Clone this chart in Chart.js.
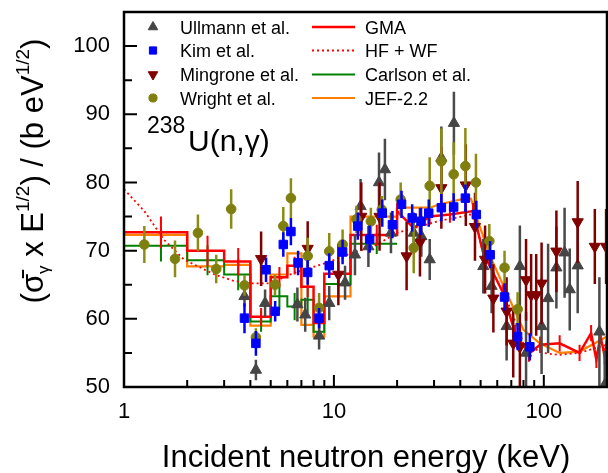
<!DOCTYPE html>
<html>
<head>
<meta charset="utf-8">
<script src="https://cdn.jsdelivr.net/npm/chart.js@4.4.1/dist/chart.umd.min.js"></script>
<style>
  html, body { margin: 0; padding: 0; background: #fff; overflow: hidden; }
  canvas { display: block; }
</style>
</head>
<body>
<canvas id="grafico" width="608" height="473"></canvas>
<script>
// axis ticks
const xTickLabels = [1, 10, 100];
const xMinorTicks = [2, 3, 4, 5, 6, 7, 8, 9, 20, 30, 40, 50, 60, 70, 80, 90];
const yTickLabels = [50, 60, 70, 80, 90, 100];
const yMinorTicks = [55, 65, 75, 85, 95];

// stepped evaluations below 20 keV (bin edges in keV)
const binEdges = [1, 2, 3, 4, 5, 6, 7, 8, 9, 12, 20];
const gmaStep = [72.7, 70.0, 68.4, 60.3, 66.1, 67.8, 64.7, 59.4, 66.6, 72.3];
const gmaStepErr = [2.3, 2.2, 2.0, 1.3, 1.5, 1.3, 1.5, 1.5, 1.8, 1.5];
const carlsonStep = [70.7, 68.6, 66.5, 59.6, 63.3, 61.8, 62.8, 58.1, 65.1, 71.0];
const carlsonErr = [2.3, 2.2, 2.3, 1.5, 2.0, 2.0, 2.0, 1.5, 2.0, 1.5];
const jefStep = [72.3, 67.7, 67.9, 59.0, 66.5, 69.6, 59.1, 57.4, 63.3, 75.0];

// continuous curves
const gmaE = [20, 24, 28.6, 35.7, 46, 51.4, 64, 73, 85, 96, 119, 148, 168, 178, 186, 195, 200];
const gmaV = [75.8, 73.3, 75.0, 75.3, 75.8, 69.7, 63.8, 57.9, 54.9, 56.2, 56.4, 55.0, 57.9, 54.0, 57.5, 54.5, 57.0];
const jefE = [20, 28.6, 32, 42.7, 45, 47.7, 55.5, 66.5, 80, 95.7, 119, 148, 200];
const jefV = [76.3, 76.3, 76.8, 77.7, 77.6, 75.0, 69.2, 63.8, 58.4, 56.4, 55.0, 55.2, 57.4];
const hfE = [1, 1.25, 1.55, 1.93, 2.7, 3.3, 4, 5, 6.4, 9.2, 12.3, 15.4, 20, 24, 32, 38, 44.5, 47, 51, 56, 68.6, 80, 99, 118, 148, 185, 200];
const hfV = [79.0, 75.8, 71.6, 68.7, 66.5, 65.6, 65.2, 65.2, 66.7, 68.2, 69.7, 70.6, 72.6, 73.3, 74.4, 74.8, 75.3, 74.5, 70.0, 67.5, 61.8, 56.4, 55.0, 54.7, 55.0, 55.9, 56.2];

// measurements
const ullE = [3.75, 4.25, 4.7, 6.7, 7.3, 8.5, 9.5, 11.3, 12.6, 13.4, 14.6, 16.4, 17.5, 18.7, 24, 26.1, 28.6, 32.5, 37.3, 51.5, 56.4, 66.5, 76.9, 82.3, 97.6, 104.8, 114.8, 125.6, 132.9, 145, 184, 195];
const ullV = [63.3, 52.5, 62.3, 62.1, 60.6, 57.5, 62.3, 65.3, 69.4, 76.5, 70.6, 80.0, 81.9, 72.6, 72.6, 72.1, 68.7, 83.6, 88.7, 67.7, 64.8, 58.9, 67.7, 55.0, 58.9, 63.0, 67.5, 69.7, 64.3, 67.8, 58.1, 50.3];
const ullErr = [1.5, 1.5, 2, 2.5, 2.5, 2, 2.5, 2.5, 3, 4, 3, 4.4, 4.5, 3, 3, 3, 3, 4.6, 4.6, 4, 4, 5, 6, 6, 7, 8, 6, 6.6, 6, 7, 8, 5];

const kimE = [3.75, 4.25, 4.75, 5.25, 5.74, 6.24, 6.75, 7.5, 8.5, 9.5, 11, 13, 14.8, 17, 19, 21, 23.6, 26, 28.3, 32.5, 37.2, 42.3, 47.7, 55.5, 65, 75, 85.8];
const kimV = [60.1, 56.4, 67.2, 61.1, 70.9, 72.8, 68.2, 66.8, 60.1, 67.8, 69.8, 73.6, 71.7, 75.5, 73.8, 76.8, 74.8, 74.3, 75.5, 76.3, 76.4, 77.7, 75.3, 69.4, 63.2, 57.4, 55.9];
const kimErr = [2.2, 1.8, 1.8, 1.5, 1.8, 2, 1.8, 1.8, 1.5, 1.8, 1.8, 2, 2, 2, 2, 2, 2, 2, 2, 2, 2, 2, 2, 2, 2, 2, 2];

const minE = [4.5, 7.5, 10.5, 13.5, 16.5, 22.2, 25.7, 32.5, 42.5, 47, 52.5, 57.5, 66.5, 71.5, 76.9, 82.3, 87, 92, 97.6, 114.8, 145, 175, 198];
const minV = [68.8, 70.3, 66.5, 75.0, 75.0, 69.2, 71.2, 79.2, 79.6, 73.5, 68.7, 63.0, 61.1, 56.4, 55.9, 65.7, 63.5, 63.5, 65.2, 69.9, 74.2, 70.6, 70.6];
const minErr = [4, 4, 4.5, 5, 5, 5, 5, 6, 6, 5, 5, 5, 5, 5, 6, 6, 6, 6, 6, 6, 6, 5.5, 5.5];

const wriE = [1.25, 1.75, 2.25, 2.75, 3.24, 3.75, 4.25, 5.24, 5.74, 6.24, 7.5, 8.5, 9.5, 11, 12.8, 15, 16.9, 20.8, 24, 28.6, 32.5, 37.2, 42.3, 47.5, 55, 65, 75];
const wriV = [70.9, 68.8, 72.6, 67.3, 76.1, 64.9, 57.3, 65.0, 73.6, 77.7, 69.2, 61.6, 69.9, 70.9, 74.6, 74.3, 76.0, 77.5, 70.4, 79.5, 83.1, 81.2, 82.4, 80.0, 71.4, 67.5, 61.4];
const wriErr = [2.7, 2.7, 2.7, 2.1, 2.9, 1.5, 1.3, 1.5, 2.8, 2.9, 2.7, 2.2, 2.7, 2.2, 2, 2, 2, 2.5, 3.7, 4.2, 4.8, 4.7, 5.6, 4.2, 2.5, 2.5, 2.5];

const legendLeft = ["Ullmann et al.", "Kim et al.", "Mingrone et al.", "Wright et al."];
const legendRight = ["GMA", "HF + WF", "Carlson et al.", "JEF-2.2"];

const FONT = "'Liberation Sans', Arial, sans-serif";

function pairs(xs, ys) {
    return xs.map((x, i) => ({ x: x, y: ys[i] }));
}
function steps(edges, vals) {
    const out = [];
    vals.forEach((v, i) => {
        out.push({ x: edges[i], y: v }, { x: edges[i + 1], y: v });
    });
    return out;
}
function mids(edges) {
    return edges.slice(0, -1).map((e, i) => (e + edges[i + 1]) / 2);
}

// vertical error bars, drawn just before the marks of the same dataset
const errorBars = {
    id: "errorBars",
    beforeDatasetDraw(chart, args) {
        const ds = chart.data.datasets[args.index];
        if (!ds.errors) return;
        const { ctx, chartArea: a, scales } = chart;
        ctx.save();
        ctx.beginPath();
        ctx.rect(a.left, a.top, a.right - a.left, a.bottom - a.top);
        ctx.clip();
        ctx.strokeStyle = ds.errColor;
        ctx.lineWidth = ds.errWidth || 2.5;
        ctx.beginPath();
        ds.data.forEach((p, i) => {
            const px = scales.x.getPixelForValue(p.x);
            ctx.moveTo(px, scales.y.getPixelForValue(p.y - ds.errors[i]));
            ctx.lineTo(px, scales.y.getPixelForValue(p.y + ds.errors[i]));
        });
        ctx.stroke();
        ctx.restore();
    },
};

// frame and inward ticks
const axisFrame = {
    id: "axisFrame",
    afterDatasetsDraw(chart) {
        const { ctx, chartArea: a, scales } = chart;
        ctx.save();
        ctx.strokeStyle = "#000";
        ctx.lineWidth = 2;
        ctx.beginPath();
        xTickLabels.forEach((v) => {
            const px = scales.x.getPixelForValue(v);
            ctx.moveTo(px, a.bottom); ctx.lineTo(px, a.bottom - 12);
        });
        xMinorTicks.forEach((v) => {
            const px = scales.x.getPixelForValue(v);
            ctx.moveTo(px, a.bottom); ctx.lineTo(px, a.bottom - 7);
        });
        yTickLabels.forEach((v) => {
            const py = scales.y.getPixelForValue(v);
            ctx.moveTo(a.left, py); ctx.lineTo(a.left + 13, py);
        });
        yMinorTicks.forEach((v) => {
            const py = scales.y.getPixelForValue(v);
            ctx.moveTo(a.left, py); ctx.lineTo(a.left + 8, py);
        });
        ctx.stroke();
        ctx.lineWidth = 2.5;
        ctx.strokeRect(a.left, a.top, a.right - a.left, a.bottom - a.top);
        ctx.restore();
    },
};

// legend, reaction label and axis titles
const texts = {
    id: "texts",
    afterDraw(chart) {
        const ctx = chart.ctx;
        const dsByLabel = {};
        chart.data.datasets.forEach((d) => { if (d.label) dsByLabel[d.label] = d; });
        const rows = [33.5, 57, 81, 104.5];

        ctx.save();
        ctx.fillStyle = "#000";
        ctx.font = "18px " + FONT;
        ctx.textBaseline = "alphabetic";
        legendLeft.forEach((lbl, i) => {
            const d = dsByLabel[lbl];
            ctx.fillStyle = d.backgroundColor;
            ctx.strokeStyle = d.borderColor;
            Chart.helpers.drawPoint(ctx, {
                pointStyle: d.pointStyle, rotation: d.rotation || 0,
                radius: d.pointRadius * 0.85, borderWidth: 1,
            }, 153, rows[i] - 6.5);
            ctx.fillStyle = "#000";
            ctx.fillText(lbl, 180, rows[i]);
        });
        legendRight.forEach((lbl, i) => {
            const d = dsByLabel[lbl];
            ctx.save();
            ctx.strokeStyle = d.borderColor;
            ctx.lineWidth = d.borderWidth;
            ctx.setLineDash(d.borderDash || []);
            ctx.beginPath();
            ctx.moveTo(312, rows[i] - 6.5);
            ctx.lineTo(355, rows[i] - 6.5);
            ctx.stroke();
            ctx.restore();
            ctx.fillStyle = "#000";
            ctx.fillText(lbl, 365, rows[i]);
        });

        // 238U(n,γ)
        ctx.font = "23px " + FONT;
        ctx.fillText("238", 147, 133);
        ctx.font = "30px " + FONT;
        ctx.fillText("U(n,\u03B3)", 188, 151);

        // x title
        ctx.font = "31px " + FONT;
        ctx.textAlign = "center";
        ctx.fillText("Incident neutron energy (keV)", 366, 467);

        // y title with sub/superscripts
        const big = "31px " + FONT, small = "19px " + FONT, sub = "17px " + FONT;
        const parts = [
            { t: "(\u03C3\u0304", f: big, dy: 0 },
            { t: "\u03B3", f: sub, dy: 6 },
            { t: " x E", f: big, dy: 0 },
            { t: "1/2", f: small, dy: -14 },
            { t: ") / (b eV", f: big, dy: 0 },
            { t: "1/2", f: small, dy: -14 },
            { t: ")", f: big, dy: 0 },
        ];
        ctx.textAlign = "left";
        let total = 0;
        parts.forEach((p) => { ctx.font = p.f; p.w = ctx.measureText(p.t).width; total += p.w; });
        ctx.translate(43, 171);
        ctx.rotate(-Math.PI / 2);
        let cx = -total / 2;
        parts.forEach((p) => {
            ctx.font = p.f;
            ctx.fillText(p.t, cx, p.dy);
            cx += p.w;
        });
        ctx.restore();
    },
};

const datasets = [
    {
        label: "Kim et al.", data: pairs(kimE, kimV), errors: kimErr, errColor: "#0000ff",
        pointStyle: "rect", pointRadius: 6, backgroundColor: "#0000ff", borderColor: "#0000ff", order: 0,
    },
    {
        label: "Wright et al.", data: pairs(wriE, wriV), errors: wriErr, errColor: "#8c8c14",
        pointStyle: "circle", pointRadius: 4.8, backgroundColor: "#7f7f0f", borderColor: "#7f7f0f", order: 1,
    },
    {
        label: "Mingrone et al.", data: pairs(minE, minV), errors: minErr, errColor: "#800000",
        pointStyle: "triangle", rotation: 180, pointRadius: 6.5, backgroundColor: "#800000", borderColor: "#800000", order: 2,
    },
    {
        label: "Ullmann et al.", data: pairs(ullE, ullV), errors: ullErr, errColor: "#4a4a4a",
        pointStyle: "triangle", pointRadius: 6.5, backgroundColor: "#454545", borderColor: "#454545", order: 3,
    },
    {
        label: "GMA", data: steps(binEdges, gmaStep).concat(pairs(gmaE, gmaV)), showLine: true,
        borderColor: "#ff0000", backgroundColor: "#ff0000", borderWidth: 2.5,
        pointRadius: 0, order: 4,
    },
    {
        data: pairs(mids(binEdges), gmaStep), errors: gmaStepErr, errColor: "#ff0000", errWidth: 2,
        pointRadius: 0, order: 4,
    },
    {
        data: pairs(gmaE, gmaV), pointRadius: 0, order: 4,
        errors: gmaE.map(() => 1.2), errColor: "#ff0000", errWidth: 2,
    },
    {
        label: "HF + WF", data: pairs(hfE, hfV), showLine: true, borderColor: "#ff0000",
        borderWidth: 1.8, borderDash: [2, 3], pointRadius: 0, order: 5,
    },
    {
        label: "Carlson et al.", data: steps(binEdges, carlsonStep), showLine: true,
        borderColor: "#008000", borderWidth: 2, pointRadius: 0, order: 6,
    },
    {
        data: pairs(mids(binEdges), carlsonStep), errors: carlsonErr, errColor: "#008000", errWidth: 2,
        pointRadius: 0, order: 6,
    },
    {
        label: "JEF-2.2", data: steps(binEdges, jefStep).concat(pairs(jefE, jefV)), showLine: true,
        borderColor: "#ff8000", borderWidth: 2.2, pointRadius: 0, order: 7,
    },
];

new Chart(document.getElementById("grafico").getContext("2d"), {
    type: "scatter",
    data: { datasets: datasets },
    options: {
        responsive: false,
        animation: false,
        devicePixelRatio: 1,
        layout: { autoPadding: false, padding: { top: 12, right: 1, left: 0, bottom: 0 } },
        plugins: { legend: { display: false }, tooltip: { enabled: false } },
        scales: {
            x: {
                type: "logarithmic", min: 1, max: 200,
                grid: { display: false, drawTicks: false }, border: { display: false },
                afterBuildTicks: (s) => { s.ticks = xTickLabels.map((v) => ({ value: v })); },
                afterFit: (s) => {
                    s.height = 86;
                    s.paddingLeft = 0; s.paddingRight = 0;
                },
                ticks: {
                    font: { family: FONT, size: 22 }, color: "#000", padding: 12,
                    maxRotation: 0, autoSkip: false, callback: (v) => String(v),
                },
            },
            y: {
                min: 50, max: 105,
                grid: { display: false, drawTicks: false }, border: { display: false },
                afterBuildTicks: (s) => { s.ticks = yTickLabels.map((v) => ({ value: v })); },
                afterFit: (s) => {
                    s.width = 124;
                    s.paddingTop = 0; s.paddingBottom = 0;
                },
                ticks: { font: { family: FONT, size: 22 }, color: "#000", padding: 14 },
            },
        },
    },
    plugins: [errorBars, axisFrame, texts],
});
</script>
</body>
</html>
